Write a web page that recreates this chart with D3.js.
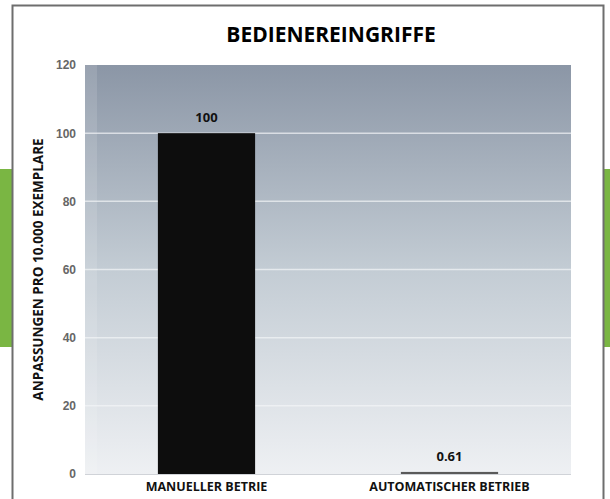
<!DOCTYPE html>
<html>
<head>
<meta charset="utf-8">
<script src="https://cdn.jsdelivr.net/npm/d3@7"></script>
<style>
  body { margin: 0; background: #fff; }
  svg { display: block; font-family: "Open Sans", "DejaVu Sans", sans-serif; }
</style>
</head>
<body>
<div id="chart"></div>
<script>
const categories = ["MANUELLER BETRIE", "AUTOMATISCHER BETRIEB"];
const values = [100, 0.61];
const valueLabels = ["100", "0.61"];
const yTicks = [0, 20, 40, 60, 80, 100, 120];

const width = 610;
const height = 499;
const margin = { top: 65, right: 39, bottom: 25, left: 85 };

const svg = d3.select("#chart")
  .append("svg")
  .attr("width", width)
  .attr("height", height);

// green side tabs and frame
svg.append("rect").attr("x", 0).attr("y", 169).attr("width", 12).attr("height", 178).attr("fill", "#7ab643");
svg.append("rect").attr("x", 604).attr("y", 169).attr("width", 6).attr("height", 178).attr("fill", "#7ab643");
svg.append("path")
  .attr("d", `M12.5,${height} V5.5 H603.5 V${height}`)
  .attr("fill", "none")
  .attr("stroke", "#6e6e6e")
  .attr("stroke-width", 2);

const x = d3.scaleBand()
  .domain(categories)
  .range([margin.left, width - margin.right])
  .paddingInner(0.6)
  .paddingOuter(0.3);

const y = d3.scaleLinear()
  .domain([0, 120])
  .range([height - margin.bottom, margin.top]);

const defs = svg.append("defs");
const grad = defs.append("linearGradient")
  .attr("id", "bg")
  .attr("x1", 0).attr("y1", 0).attr("x2", 0).attr("y2", 1);
grad.append("stop").attr("offset", "0%").attr("stop-color", "#8b96a6");
grad.append("stop").attr("offset", "50%").attr("stop-color", "#c3ccd4");
grad.append("stop").attr("offset", "100%").attr("stop-color", "#eef0f3");

svg.append("rect")
  .attr("x", margin.left)
  .attr("y", y(120))
  .attr("width", width - margin.right - margin.left)
  .attr("height", y(0) - y(120))
  .attr("fill", "url(#bg)");

// light strip along the left edge of the plot
svg.append("rect")
  .attr("x", margin.left)
  .attr("y", y(120))
  .attr("width", 12)
  .attr("height", y(0) - y(120))
  .attr("fill", "#ffffff")
  .attr("opacity", 0.12);

// gridlines
svg.append("g")
  .selectAll("line")
  .data(yTicks.filter(d => d > 0 && d < 120))
  .join("line")
  .attr("x1", margin.left)
  .attr("x2", width - margin.right)
  .attr("y1", d => y(d))
  .attr("y2", d => y(d))
  .attr("stroke", "#f4f6f8")
  .attr("stroke-width", 1.5)
  .attr("opacity", 0.7);

// y axis
const yAxis = svg.append("g")
  .attr("transform", `translate(${margin.left},0)`)
  .call(d3.axisLeft(y).tickValues(yTicks).tickSize(0).tickPadding(9));
yAxis.select(".domain").remove();
yAxis.selectAll("text")
  .attr("fill", "#666")
  .style("font-size", "12px")
  .style("font-weight", "bold");

// baseline
svg.append("line")
  .attr("x1", margin.left)
  .attr("x2", width - margin.right)
  .attr("y1", y(0) + 0.5)
  .attr("y2", y(0) + 0.5)
  .attr("stroke", "#d0d3d8");

// bars
svg.append("g")
  .selectAll("rect")
  .data(values)
  .join("rect")
  .attr("x", (d, i) => x(categories[i]))
  .attr("width", x.bandwidth())
  .attr("y", d => Math.min(y(d), y(0) - 2))
  .attr("height", d => Math.max(y(0) - y(d), 2))
  .attr("fill", (d, i) => i === 0 ? "#0d0d0d" : "#5a5a5a");

// value labels
svg.append("g")
  .selectAll("text")
  .data(values)
  .join("text")
  .attr("x", (d, i) => x(categories[i]) + x.bandwidth() / 2)
  .attr("y", d => Math.min(y(d), y(0) - 2) - 11)
  .attr("text-anchor", "middle")
  .attr("fill", "#111")
  .style("font-size", "13px")
  .style("font-weight", "bold")
  .text((d, i) => valueLabels[i]);

// x axis labels
svg.append("g")
  .selectAll("text")
  .data(categories)
  .join("text")
  .attr("x", d => x(d) + x.bandwidth() / 2)
  .attr("y", y(0) + 17)
  .attr("text-anchor", "middle")
  .attr("fill", "#111")
  .style("font-size", "12.5px")
  .style("font-weight", "bold")
  .text(d => d);

// title
svg.append("text")
  .attr("x", 331)
  .attr("y", 42)
  .attr("text-anchor", "middle")
  .attr("fill", "#000")
  .style("font-size", "21px")
  .style("font-weight", "bold")
  .text("BEDIENEREINGRIFFE");

// y axis title
svg.append("text")
  .attr("transform", `translate(43,${(y(0) + y(120)) / 2}) rotate(-90)`)
  .attr("text-anchor", "middle")
  .attr("fill", "#111")
  .style("font-size", "13.5px")
  .style("font-weight", "bold")
  .text("ANPASSUNGEN PRO 10.000 EXEMPLARE");
</script>
</body>
</html>
